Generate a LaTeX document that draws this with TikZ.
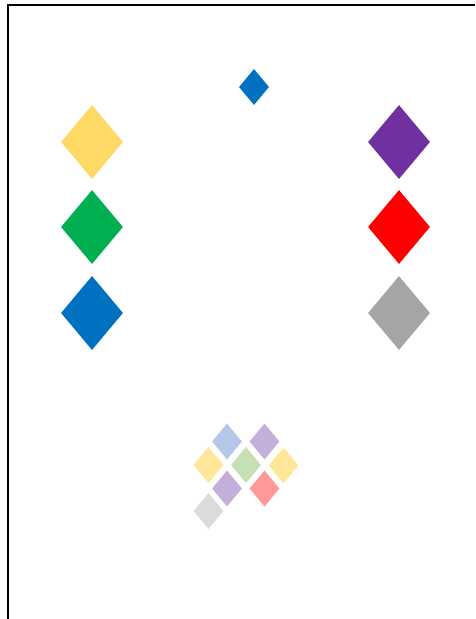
\documentclass[tikz,border=0pt]{standalone}
\usepackage{tikz}
\usetikzlibrary{shapes.geometric}
\definecolor{dmyellow}{HTML}{FFD966}
\definecolor{dmgreen}{HTML}{00B050}
\definecolor{dmblue}{HTML}{0070C0}
\definecolor{dmpurple}{HTML}{7030A0}
\definecolor{dmred}{HTML}{FF0000}
\definecolor{dmgray}{HTML}{A5A5A5}
\definecolor{ltblue}{HTML}{B4C7E7}
\definecolor{ltpurple}{HTML}{C4AFDB}
\definecolor{ltyellow}{HTML}{FFE699}
\definecolor{ltgreen}{HTML}{C5E0B4}
\definecolor{ltred}{HTML}{FF9999}
\definecolor{ltgray}{HTML}{DBDBDB}
\tikzset{
  bigdiamond/.style={diamond, draw=none, inner sep=0pt, minimum width=62pt, minimum height=74pt},
  smalldiamond/.style={diamond, draw=none, inner sep=0pt, minimum width=30pt, minimum height=36pt}
}

\begin{document}
\begin{tikzpicture}[x=1pt, y=-1pt]
  \useasboundingbox (0,0) rectangle (475,619);

  % Frame
  \coordinate (tl) at (8,5);
  \coordinate (tr) at (475,5);
  \coordinate (bl) at (8,619);
  \draw[line width=1.3pt] (tr) -- (tl) -- (bl);

  % Top marker
  \node[smalldiamond, fill=dmblue] (top) at (254,87) {};

  % Left column
  \node[bigdiamond, fill=dmyellow] (lyellow) at (92,142) {};
  \node[bigdiamond, fill=dmgreen] (lgreen) at (92,227) {};
  \node[bigdiamond, fill=dmblue] (lblue) at (92,313) {};

  % Right column
  \node[bigdiamond, fill=dmpurple] (rpurple) at (399,142) {};
  \node[bigdiamond, fill=dmred] (rred) at (399,227) {};
  \node[bigdiamond, fill=dmgray] (rgray) at (399,313) {};

  % Pale cluster
  \node[smalldiamond, fill=ltblue] (c1) at (227,441.5) {};
  \node[smalldiamond, fill=ltpurple] (c2) at (264.5,441.5) {};
  \node[smalldiamond, fill=ltyellow] (c3) at (208.5,465) {};
  \node[smalldiamond, fill=ltgreen] (c4) at (246,465) {};
  \node[smalldiamond, fill=ltyellow] (c5) at (283.5,465.5) {};
  \node[smalldiamond, fill=ltpurple] (c6) at (227,488.5) {};
  \node[smalldiamond, fill=ltred] (c7) at (264.5,488.5) {};
  \node[smalldiamond, fill=ltgray] (c8) at (208.5,511) {};
\end{tikzpicture}
\end{document}
